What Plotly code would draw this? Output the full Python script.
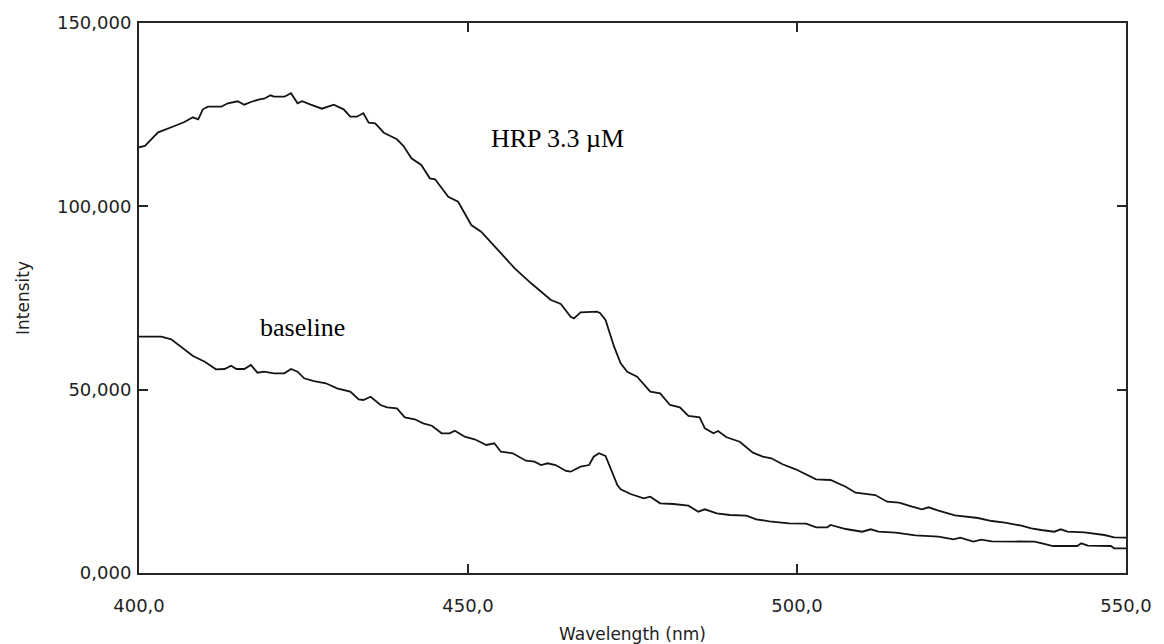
import plotly.graph_objects as go

# HRP 3.3 uM spectrum (wavelength nm, intensity)
hrp_wl = [400.0, 400.9, 402.9, 403.9, 405.4, 406.9, 408.2, 409.0, 409.7, 410.5, 412.5, 413.5,
          415.0, 416.0, 417.0, 418.3, 419.0, 420.0, 420.5, 422.1, 423.1, 424.1, 424.8, 426.1,
          427.8, 429.6, 431.1, 432.1, 433.1, 434.1, 434.9, 435.9, 437.2, 438.2, 439.2, 440.2,
          441.4, 442.9, 444.2, 445.0, 447.0, 448.5, 450.5, 452.0, 454.5, 457.1, 459.6, 461.1,
          462.6, 464.1, 465.6, 466.1, 467.1, 469.6, 470.1, 470.9, 471.4, 472.2, 473.2, 474.2,
          475.7, 477.7, 479.2, 480.7, 482.2, 483.5, 485.2, 486.0, 487.3, 488.0, 489.3, 491.3,
          493.3, 494.8, 496.1, 497.8, 499.8, 502.9, 505.1, 507.4, 508.9, 511.9, 513.7, 515.5,
          517.5, 519.0, 520.0, 521.5, 524.0, 525.5, 527.5, 529.6, 531.6, 534.1, 535.6, 537.1,
          539.1, 540.1, 541.1, 543.7, 546.7, 548.2, 550.0]
hrp_int = [116100, 116500, 120190, 120820, 121910, 123000, 124280, 123740, 126460, 127170, 127170, 128100,
           128650, 127720, 128460, 129190, 129350, 130280, 129900, 129900, 130830, 128100, 128650, 127720,
           126630, 127720, 126460, 124450, 124450, 125370, 122810, 122650, 120080, 119180, 118280, 116450,
           113100, 111270, 107640, 107370, 102630, 101260, 94910, 93080, 88090, 83100, 79010, 76720,
           74450, 73360, 69900, 69460, 71100, 71260, 70830, 69000, 66270, 61720, 57190, 54900,
           53540, 49450, 49010, 45820, 45190, 42820, 42460, 39460, 38100, 38730, 37010, 35810,
           32810, 31720, 31280, 29650, 28280, 25550, 25360, 23540, 21900, 21270, 19450, 19170,
           18080, 17370, 17920, 16990, 15740, 15350, 15000, 14180, 13720, 12900, 12190, 11730,
           11260, 11920, 11260, 11100, 10360, 9740, 9630]

# baseline spectrum
base_wl = [400.0, 403.4, 404.9, 406.4, 408.2, 410.0, 411.7, 413.0, 414.0, 414.8, 416.0, 417.0,
           418.0, 419.0, 420.5, 422.1, 423.1, 424.1, 425.1, 426.6, 428.4, 430.1, 432.1, 433.4,
           434.1, 435.2, 436.7, 437.7, 439.2, 440.4, 441.9, 443.2, 444.5, 446.0, 447.2, 448.0,
           449.5, 451.0, 452.8, 454.0, 455.0, 456.8, 458.8, 460.1, 461.1, 462.1, 463.3, 464.9,
           465.6, 467.1, 468.4, 469.1, 469.9, 470.9, 471.6, 472.7, 473.2, 474.7, 476.7, 477.7,
           479.2, 481.2, 483.5, 485.0, 486.0, 487.8, 489.8, 492.3, 493.8, 495.8, 498.8, 501.4,
           502.9, 504.6, 505.1, 507.4, 509.9, 511.2, 512.4, 515.0, 518.0, 521.5, 523.8, 524.8,
           526.8, 528.0, 529.6, 532.6, 536.1, 537.4, 538.9, 542.6, 543.2, 544.2, 547.7, 548.2,
           550.0]
base_int = [64450, 64450, 63740, 61720, 59180, 57630, 55550, 55640, 56540, 55640, 55640, 56730,
            54630, 54900, 54460, 54460, 55640, 54900, 53100, 52360, 51740, 50370, 49450, 47370,
            47180, 48080, 45820, 45190, 44920, 42460, 41920, 40830, 40170, 38100, 38100, 38810,
            37170, 36460, 34910, 35370, 33080, 32650, 30630, 30350, 29450, 29920, 29450, 27820,
            27630, 28990, 29450, 31720, 32650, 31910, 28990, 24000, 22830, 21550, 20370, 20810,
            19010, 18820, 18350, 16720, 17370, 16280, 15820, 15630, 14650, 14100, 13550, 13450,
            12460, 12460, 13090, 12000, 11260, 11920, 11260, 10990, 10280, 9900, 9190, 9630,
            8540, 9080, 8650, 8650, 8540, 7990, 7360, 7360, 8100, 7450, 7360, 6740,
            6740]

x_ticks = [400, 450, 500, 550]
x_ticktext = ["400,0", "450,0", "500,0", "550,0"]
y_ticks = [0, 50000, 100000, 150000]
y_ticktext = ["0,000", "50,000", "100,000", "150,000"]

labels = ["HRP 3.3 \u00b5M", "baseline"]
label_x = [463.6, 424.8]
label_y = [118400, 67000]

LINE = "#141414"
AX = "#262626"
TICKFONT = dict(family="DejaVu Sans", size=18, color="#222")

fig = go.Figure()
fig.add_trace(go.Scatter(x=hrp_wl, y=hrp_int, mode="lines",
                         line=dict(color=LINE, width=1.8), showlegend=False))
fig.add_trace(go.Scatter(x=base_wl, y=base_int, mode="lines",
                         line=dict(color=LINE, width=1.8), showlegend=False))

for t, xx, yy in zip(labels, label_x, label_y):
    fig.add_annotation(x=xx, y=yy, xref="x", yref="y", text=t, showarrow=False,
                       xanchor="center", yanchor="middle",
                       font=dict(family="Liberation Serif", size=26, color="black"))

fig.add_annotation(text="Wavelength (nm)", xref="paper", yref="paper", x=0.5, y=-0.111,
                   xanchor="center", yanchor="middle", showarrow=False,
                   font=dict(family="DejaVu Sans", size=17, color="#222"))
fig.add_annotation(text="Intensity", xref="paper", yref="paper", x=-0.1176, y=0.5,
                   xanchor="center", yanchor="middle", showarrow=False, textangle=-90,
                   font=dict(family="DejaVu Sans", size=17, color="#222"))

fig.update_layout(
    width=1164, height=644,
    margin=dict(l=139, r=30, t=22, b=71),
    paper_bgcolor="white", plot_bgcolor="white",
    xaxis=dict(range=[400, 550], tickvals=x_ticks, ticktext=x_ticktext,
               showgrid=False, zeroline=False, showline=True, linecolor=AX, linewidth=2,
               mirror="ticks", ticks="inside", ticklen=9, tickwidth=2, tickcolor=AX,
               tickfont=TICKFONT, ticklabelstandoff=15),
    yaxis=dict(range=[0, 150000], tickvals=y_ticks, ticktext=y_ticktext,
               showgrid=False, zeroline=False, showline=True, linecolor=AX, linewidth=2,
               mirror="ticks", ticks="inside", ticklen=9, tickwidth=2, tickcolor=AX,
               tickfont=TICKFONT, ticklabelstandoff=2),
)

fig.write_html("out.html")
